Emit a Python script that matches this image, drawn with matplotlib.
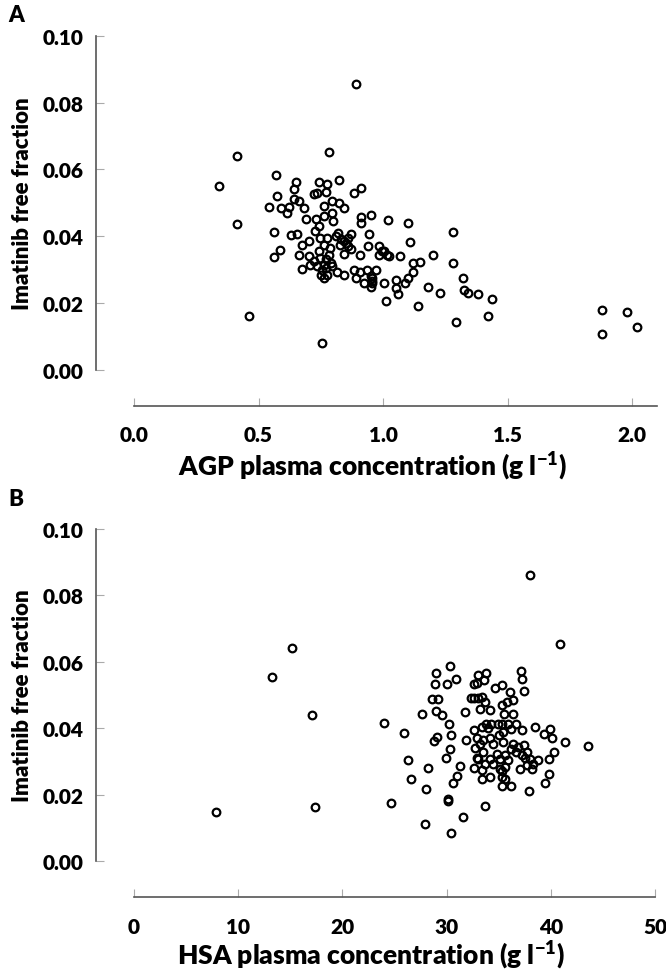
import matplotlib
matplotlib.use("Agg")
import matplotlib.pyplot as plt

plt.rcParams['font.family'] = ['Lato', 'DejaVu Sans']
plt.rcParams['font.weight'] = 'heavy'
plt.rcParams['mathtext.fontset'] = 'custom'
plt.rcParams['mathtext.rm'] = 'Lato:heavy'
plt.rcParams['mathtext.bf'] = 'Lato:heavy'
plt.rcParams['mathtext.default'] = 'rm'

# ---- Panel A: AGP (g/l) vs imatinib free fraction ----
agp_x = [0.343, 0.413, 0.413, 0.463, 0.753, 0.893, 1.878, 1.878, 1.978, 2.019,
         0.572, 0.783, 0.574, 0.542, 0.591, 0.614, 0.621, 0.564, 0.585, 0.563,
         0.632, 0.654, 0.652, 0.644, 0.641, 0.664, 0.684, 0.692, 0.664, 0.675,
         0.675, 0.701, 0.701, 0.708, 0.721, 0.721, 0.735, 0.742, 0.775, 0.772,
         0.764, 0.764, 0.732, 0.742, 0.728, 0.795, 0.795, 0.800, 0.823, 0.842,
         0.822, 0.882, 0.912, 0.913, 0.913, 0.952, 0.944, 0.940, 0.909, 0.873,
         0.870, 0.860, 0.830, 0.845, 0.810, 0.820, 0.842, 0.842, 0.882, 0.909,
         0.936, 0.956, 0.953, 0.922, 0.893, 0.973, 0.955, 0.748, 0.761, 0.775,
         0.788, 0.829, 0.748, 0.761, 0.775, 0.755, 0.795, 0.815, 0.782, 0.742,
         0.761, 0.735, 0.770, 0.790, 0.983, 1.003, 1.023, 0.983, 0.997, 1.003,
         1.016, 1.020, 1.010, 1.050, 1.050, 1.060, 1.070, 1.090, 1.100, 1.100,
         1.110, 1.120, 1.120, 1.140, 1.150, 1.180, 1.200, 1.230, 1.280, 1.280,
         1.291, 1.320, 1.327, 1.340, 1.381, 1.439, 1.421,
         0.955, 0.950, 0.850, 0.860, 0.750, 0.770]
agp_y = [0.0550, 0.0639, 0.0435, 0.0160, 0.0080, 0.0855, 0.0179, 0.0108, 0.0174, 0.0129,
         0.0582, 0.0651, 0.0520, 0.0488, 0.0485, 0.0470, 0.0487, 0.0413, 0.0357, 0.0336,
         0.0403, 0.0405, 0.0562, 0.0540, 0.0512, 0.0505, 0.0483, 0.0450, 0.0344, 0.0301,
         0.0374, 0.0340, 0.0385, 0.0314, 0.0324, 0.0525, 0.0530, 0.0562, 0.0555, 0.0532,
         0.0490, 0.0460, 0.0450, 0.0430, 0.0415, 0.0505, 0.0470, 0.0445, 0.0498, 0.0485,
         0.0567, 0.0528, 0.0543, 0.0457, 0.0438, 0.0463, 0.0407, 0.0370, 0.0344, 0.0407,
         0.0360, 0.0370, 0.0390, 0.0385, 0.0400, 0.0410, 0.0345, 0.0284, 0.0299, 0.0294,
         0.0299, 0.0274, 0.0249, 0.0259, 0.0276, 0.0299, 0.0260, 0.0395, 0.0374, 0.0395,
         0.0364, 0.0374, 0.0334, 0.0314, 0.0284, 0.0299, 0.0309, 0.0294, 0.0344, 0.0354,
         0.0274, 0.0309, 0.0330, 0.0320, 0.0344, 0.0354, 0.0339, 0.0370, 0.0355, 0.0260,
         0.0344, 0.0447, 0.0207, 0.0245, 0.0270, 0.0226, 0.0339, 0.0260, 0.0274, 0.0439,
         0.0383, 0.0319, 0.0294, 0.0190, 0.0322, 0.0247, 0.0342, 0.0231, 0.0413, 0.0319,
         0.0144, 0.0274, 0.0239, 0.0231, 0.0226, 0.0212, 0.0162,
         0.0265, 0.0280, 0.0380, 0.0395, 0.0285, 0.0305]

# ---- Panel B: HSA (g/l) vs imatinib free fraction ----
hsa_x = [7.9, 13.2, 15.2, 17.05, 17.4, 24.0, 24.7, 27.9, 30.4, 31.6,
         33.7, 30.1, 30.1, 28.0, 26.6, 26.3, 28.2, 25.9, 27.6, 29.0,
         30.3, 28.9, 30.0, 30.9, 28.6, 29.2, 29.0, 29.6, 30.2, 30.4,
         28.8, 29.1, 30.3, 29.9, 31.3, 31.0, 30.6, 31.8, 33.0, 33.8,
         32.9, 33.6, 32.6, 32.6, 33.0, 33.4, 34.6, 35.3, 36.1, 36.4,
         35.8, 35.3, 33.2, 34.2, 33.7, 35.5, 36.4, 37.1, 37.2, 37.4,
         38.0, 40.9, 32.6, 33.4, 33.8, 34.3, 34.9, 32.9, 33.2, 33.5,
         31.9, 32.7, 33.5, 33.0, 35.3, 35.9, 35.4, 36.2, 36.7, 37.2,
         38.5, 39.3, 39.9, 40.1, 41.4, 43.6, 36.4, 36.9, 37.4, 37.7,
         37.2, 36.7, 36.2, 38.0, 37.7, 38.3, 38.8, 39.8, 40.3, 39.8,
         39.4, 37.9, 37.0, 38.2, 32.9, 32.6, 33.4, 33.4, 34.2, 34.8,
         35.1, 35.6, 35.9, 35.1, 35.6, 35.3, 35.6, 35.3, 36.2, 34.2,
         34.5, 33.7, 35.0, 35.4, 34.2, 34.5,
         32.3, 34.0, 37.5, 35.3]
hsa_y = [0.0147, 0.0555, 0.0643, 0.0439, 0.0164, 0.0417, 0.0176, 0.0112, 0.0083, 0.0134,
         0.0166, 0.0187, 0.0180, 0.0218, 0.0246, 0.0305, 0.0279, 0.0387, 0.0444, 0.0565,
         0.0587, 0.0532, 0.0532, 0.0548, 0.0489, 0.0489, 0.0452, 0.0439, 0.0412, 0.0379,
         0.0360, 0.0374, 0.0336, 0.0310, 0.0286, 0.0256, 0.0236, 0.0449, 0.0560, 0.0565,
         0.0535, 0.0545, 0.0533, 0.0492, 0.0490, 0.0495, 0.0520, 0.0530, 0.0510, 0.0484,
         0.0480, 0.0469, 0.0459, 0.0454, 0.0480, 0.0444, 0.0444, 0.0573, 0.0548, 0.0511,
         0.0862, 0.0653, 0.0394, 0.0404, 0.0414, 0.0414, 0.0414, 0.0369, 0.0353, 0.0363,
         0.0363, 0.0340, 0.0328, 0.0308, 0.0414, 0.0414, 0.0389, 0.0399, 0.0414, 0.0394,
         0.0404, 0.0382, 0.0399, 0.0369, 0.0357, 0.0345, 0.0353, 0.0343, 0.0348, 0.0328,
         0.0318, 0.0328, 0.0338, 0.0308, 0.0288, 0.0293, 0.0303, 0.0308, 0.0328, 0.0263,
         0.0235, 0.0212, 0.0276, 0.0276, 0.0310, 0.0280, 0.0273, 0.0248, 0.0308, 0.0323,
         0.0308, 0.0318, 0.0303, 0.0278, 0.0283, 0.0253, 0.0248, 0.0227, 0.0227, 0.0253,
         0.0293, 0.0293, 0.0379, 0.0359, 0.0369, 0.0353,
         0.0490, 0.0400, 0.0310, 0.0270]

y_ticks = [0.00, 0.02, 0.04, 0.06, 0.08, 0.10]
y_ticklabels = ['0.00', '0.02', '0.04', '0.06', '0.08', '0.10']
agp_ticks = [0.0, 0.5, 1.0, 1.5, 2.0]
agp_ticklabels = ['0.0', '0.5', '1.0', '1.5', '2.0']
hsa_ticks = [0, 10, 20, 30, 40, 50]
hsa_ticklabels = ['0', '10', '20', '30', '40', '50']

W, H = 666, 970
fig = plt.figure(figsize=(W / 100, H / 100), dpi=100)

spine_col = '#555555'
tick_col = '#aaaaaa'
fs_tick = 15
fs_ylab = 16
fs_xlab = 19


def make_panel(rect, xs, ys, xlim, xticks, xticklabels, xlabel, xlabel_y,
               letter, letter_xy):
    ax = fig.add_axes(rect)
    ax.plot(xs, ys, linestyle='none', marker='o', ms=5.5, mew=1.6,
            mfc='none', mec='black')
    ax.set_xlim(*xlim)
    ax.set_ylim(0, 0.1)
    for s in ('top', 'right'):
        ax.spines[s].set_visible(False)
    ax.spines['left'].set_position(('outward', 27.5))
    ax.spines['bottom'].set_position(('outward', 26))
    ax.spines['left'].set_bounds(0, 0.1)
    ax.spines['bottom'].set_bounds(xlim[0], xlim[1])
    for s in ('left', 'bottom'):
        ax.spines[s].set_color(spine_col)
        ax.spines[s].set_linewidth(1.2)
    ax.set_yticks(y_ticks)
    ax.set_yticklabels(y_ticklabels)
    ax.set_xticks(xticks)
    ax.set_xticklabels(xticklabels)
    ax.tick_params(axis='both', direction='in', length=5.5, width=0.8,
                   color=tick_col, labelsize=fs_tick)
    ax.tick_params(axis='y', pad=9)
    ax.tick_params(axis='x', pad=14)
    for lab in ax.get_xticklabels() + ax.get_yticklabels():
        lab.set_fontweight('heavy')
    ax.set_ylabel('Imatinib free fraction', fontsize=fs_ylab, fontweight='heavy',
                  labelpad=7)
    ax.set_xlabel(xlabel, fontsize=fs_xlab, fontweight='heavy')
    ax.xaxis.set_label_coords(0.455, xlabel_y)
    ax.xaxis.label.set_verticalalignment('center')
    ax.xaxis.label.set_horizontalalignment('center')
    fig.text(letter_xy[0] / W, 1 - letter_xy[1] / H, letter, fontsize=16,
             fontweight='heavy', ha='left', va='center')
    return ax


make_panel([134 / W, (H - 370.7) / H, 523 / W, 334 / H],
           agp_x, agp_y, (0, 2.1), agp_ticks, agp_ticklabels,
           r'AGP plasma concentration (g l$^{-1}$)', -0.288, 'A', (8, 15))
make_panel([134 / W, (H - 862) / H, 521 / W, 332 / H],
           hsa_x, hsa_y, (0, 50), hsa_ticks, hsa_ticklabels,
           r'HSA plasma concentration (g l$^{-1}$)', -0.282, 'B', (8, 500))

fig.savefig('out.png', dpi=100)
